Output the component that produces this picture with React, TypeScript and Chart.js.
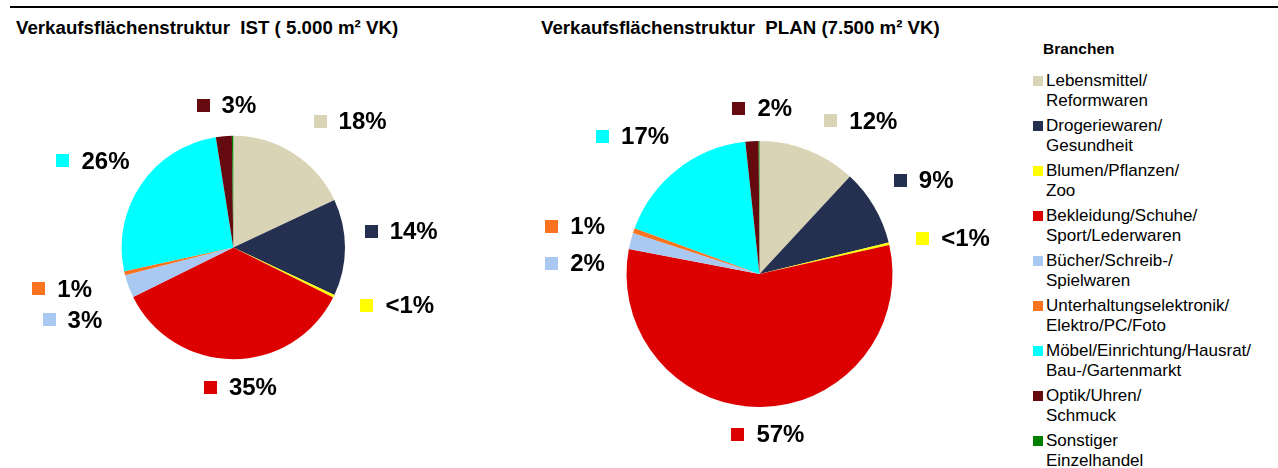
import React, { useEffect, useRef } from 'react';
import { Chart, registerables } from 'chart.js';

Chart.register(...registerables);

// ---------- data ----------
const categories = [
  'Lebensmittel/\nReformwaren',
  'Drogeriewaren/\nGesundheit',
  'Blumen/Pflanzen/\nZoo',
  'Bekleidung/Schuhe/\nSport/Lederwaren',
  'Bücher/Schreib-/\nSpielwaren',
  'Unterhaltungselektronik/\nElektro/PC/Foto',
  'Möbel/Einrichtung/Hausrat/\nBau-/Gartenmarkt',
  'Optik/Uhren/\nSchmuck',
  'Sonstiger\nEinzelhandel',
];
const sliceColors = [
  '#DAD4B6',
  '#253050',
  '#FFFF00',
  '#DD0000',
  '#A9C9F3',
  '#F97320',
  '#00FFFF',
  '#650A0F',
  '#008000',
];
const istValues = [18, 14, 0.4, 35.3, 3.3, 0.6, 25.9, 2.3, 0.2];
const planValues = [11.9, 9.3, 0.3, 56.5, 2.0, 0.6, 17.7, 1.6, 0.1];
const istLabels = ['18%', '14%', '<1%', '35%', '3%', '1%', '26%', '3%', ''];
const planLabels = ['12%', '9%', '<1%', '57%', '2%', '1%', '17%', '2%', ''];
const istTitle = 'Verkaufsflächenstruktur  IST ( 5.000 m² VK)';
const planTitle = 'Verkaufsflächenstruktur  PLAN (7.500 m² VK)';
const legendTitle = 'Branchen';

// label placement relative to each slice: angle shift (deg) and distance (× radius)
const istLabelShift = [10.5, -5.5, -6.6, -3.1, -3.9, -0.3, -2.7, 2.1, 0];
const istLabelDist = [1.536, 1.51, 1.556, 1.254, 1.58, 1.576, 1.476, 1.272, 1.3];
const planLabelShift = [12.1, 0.8, 2.8, -2.1, -11.0, -4.7, -4.8, 4.2, 0];
const planLabelDist = [1.38, 1.42, 1.479, 1.21, 1.389, 1.431, 1.405, 1.242, 1.3];

const FONT = '"Liberation Sans", Arial, Helvetica, sans-serif';

const pieLabelPlugin = {
  id: 'pieLabels',
  afterDatasetsDraw(chart: any, _args: any, opts: any) {
    const { ctx } = chart;
    const meta = chart.getDatasetMeta(0);
    ctx.save();
    ctx.font = `bold 24px ${FONT}`;
    ctx.textBaseline = 'middle';
    ctx.textAlign = 'left';
    meta.data.forEach((arc: any, i: number) => {
      const text = opts.texts[i];
      if (!text) return;
      const p = arc.getProps(['x', 'y', 'startAngle', 'endAngle', 'outerRadius'], true);
      const mid = (p.startAngle + p.endAngle) / 2 + (opts.shifts[i] * Math.PI) / 180;
      const d = p.outerRadius * opts.dists[i];
      const gx = p.x + d * Math.cos(mid);
      const gy = p.y + d * Math.sin(mid);
      const marker = 13;
      const gap = 12;
      const tw = ctx.measureText(text).width;
      const w = marker + gap + tw;
      const left = gx - w / 2;
      ctx.fillStyle = opts.colors[i];
      ctx.fillRect(Math.round(left), Math.round(gy - marker / 2), marker, marker);
      ctx.fillStyle = '#000000';
      ctx.fillText(text, left + marker + gap, gy + 1);
    });
    ctx.restore();
  },
};

type PieProps = {
  values: number[];
  texts: string[];
  shifts: number[];
  dists: number[];
  left: number;
  top: number;
  width: number;
  height: number;
  padding: { left: number; right: number; top: number; bottom: number };
};

function PieChart(props: PieProps) {
  const ref = useRef<HTMLCanvasElement | null>(null);
  useEffect(() => {
    if (!ref.current) return;
    const chart = new Chart(ref.current, {
      type: 'pie',
      data: {
        labels: categories,
        datasets: [
          {
            data: props.values,
            backgroundColor: sliceColors,
            borderWidth: 0,
            hoverBorderWidth: 0,
            hoverOffset: 0,
          },
        ],
      },
      options: {
        responsive: false,
        animation: false,
        events: [],
        layout: { padding: props.padding },
        plugins: {
          legend: { display: false },
          tooltip: { enabled: false },
          title: { display: false },
          pieLabels: {
            texts: props.texts,
            shifts: props.shifts,
            dists: props.dists,
            colors: sliceColors,
          },
        } as any,
      },
      plugins: [pieLabelPlugin],
    });
    return () => chart.destroy();
  }, []);
  return (
    <canvas
      ref={ref}
      width={props.width}
      height={props.height}
      style={{
        position: 'absolute',
        left: props.left,
        top: props.top,
        width: props.width,
        height: props.height,
      }}
    />
  );
}

export default function App() {
  const titleStyle: React.CSSProperties = {
    position: 'absolute',
    top: 17,
    fontFamily: FONT,
    fontWeight: 'bold',
    fontSize: 18.7,
    lineHeight: '22px',
    whiteSpace: 'pre',
    color: '#000',
  };
  return (
    <div
      style={{
        position: 'absolute',
        left: 0,
        top: 0,
        width: 1278,
        height: 468,
        background: '#fff',
        overflow: 'hidden',
      }}
    >
      <div
        style={{ position: 'absolute', left: 10, top: 6, width: 1268, height: 2, background: '#000' }}
      />
      <div style={{ ...titleStyle, left: 16 }}>{istTitle}</div>
      <div style={{ ...titleStyle, left: 541 }}>{planTitle}</div>

      <PieChart
        values={istValues}
        texts={istLabels}
        shifts={istLabelShift}
        dists={istLabelDist}
        left={0}
        top={40}
        width={520}
        height={428}
        padding={{ left: 121.6, right: 175, top: 95.8, bottom: 108.8 }}
      />
      <PieChart
        values={planValues}
        texts={planLabels}
        shifts={planLabelShift}
        dists={planLabelDist}
        left={520}
        top={40}
        width={500}
        height={428}
        padding={{ left: 106.5, right: 127.5, top: 101, bottom: 61 }}
      />

      <div
        style={{
          position: 'absolute',
          left: 1043,
          top: 39,
          fontFamily: FONT,
          fontWeight: 'bold',
          fontSize: 15.5,
          lineHeight: '20px',
          color: '#000',
        }}
      >
        {legendTitle}
      </div>
      {categories.map((c, i) => (
        <React.Fragment key={c}>
          <div
            style={{
              position: 'absolute',
              left: 1033,
              top: 76 + 45 * i,
              width: 10,
              height: 10,
              background: sliceColors[i],
            }}
          />
          <div
            style={{
              position: 'absolute',
              left: 1046,
              top: 71 + 45 * i,
              fontFamily: FONT,
              fontSize: 17,
              lineHeight: '20px',
              whiteSpace: 'pre',
              color: '#000',
            }}
          >
            {c}
          </div>
        </React.Fragment>
      ))}
    </div>
  );
}
